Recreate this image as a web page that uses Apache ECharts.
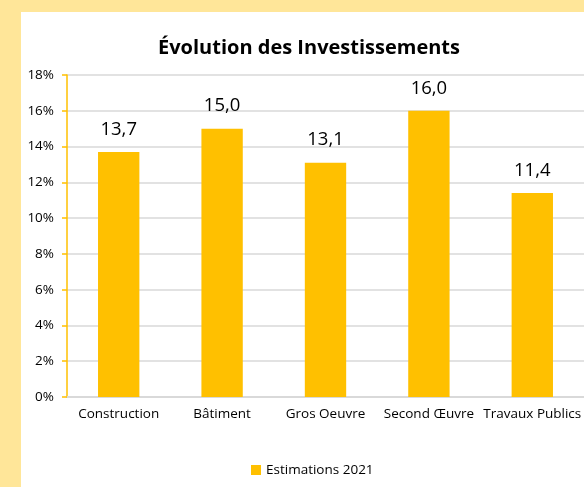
<!DOCTYPE html>
<html><head><meta charset="utf-8">
<script src="https://cdn.jsdelivr.net/npm/echarts@6/dist/echarts.min.js"></script>
<style>html,body{margin:0;padding:0;background:#FFE699;}#c{width:584px;height:487px;}</style>
</head><body><div id="c"></div>
<script>
const categories = ['Construction', 'Bâtiment', 'Gros Oeuvre', 'Second Œuvre', 'Travaux Publics'];
const estimations2021 = [13.7, 15.0, 13.1, 16.0, 11.4];
const seriesName = 'Estimations 2021';
const chartTitle = 'Évolution des Investissements';

const chart = echarts.init(document.getElementById('c'));
const font = '"Open Sans", sans-serif';
chart.setOption({
  backgroundColor: '#FFE699',
  animation: false,
  graphic: [{type: 'rect', shape: {x: 21, y: 12, width: 570, height: 480}, style: {fill: '#FFFFFF'}, z: -10}],
  title: {text: chartTitle, left: 304, textAlign: 'center', top: 33,
    textStyle: {fontFamily: font, fontSize: 20, fontWeight: 'bold', color: '#000'}},
  legend: {bottom: 5, left: 246, itemWidth: 10, itemHeight: 10, icon: 'rect', itemGap: 5,
    textStyle: {fontFamily: font, fontSize: 13.5, color: '#000'}},
  grid: {left: 67, top: 75, width: 520, height: 322, containLabel: false},
  xAxis: {type: 'category', data: categories,
    axisLine: {lineStyle: {color: '#D9D9D9', width: 2}}, axisTick: {show: false},
    axisLabel: {fontFamily: font, fontSize: 13.5, color: '#000', margin: 10, interval: 0}},
  yAxis: {type: 'value', min: 0, max: 18, interval: 2,
    axisLine: {show: true, lineStyle: {color: '#FFC000', width: 1.5}},
    axisTick: {show: true, length: 5, lineStyle: {color: '#FFC000', width: 1.5}},
    splitLine: {lineStyle: {color: '#D9D9D9', width: 1.5}},
    axisLabel: {formatter: '{value}%', fontFamily: font, fontSize: 13.5, color: '#000', margin: 13}},
  series: [{name: seriesName, type: 'bar', data: estimations2021, barWidth: '40%',
    itemStyle: {color: '#FFC000'},
    label: {show: true, position: 'top', distance: 13, fontFamily: font, fontSize: 18.5, color: '#000',
      formatter: p => p.value.toFixed(1).replace('.', ',')}}]
});
</script></body></html>
